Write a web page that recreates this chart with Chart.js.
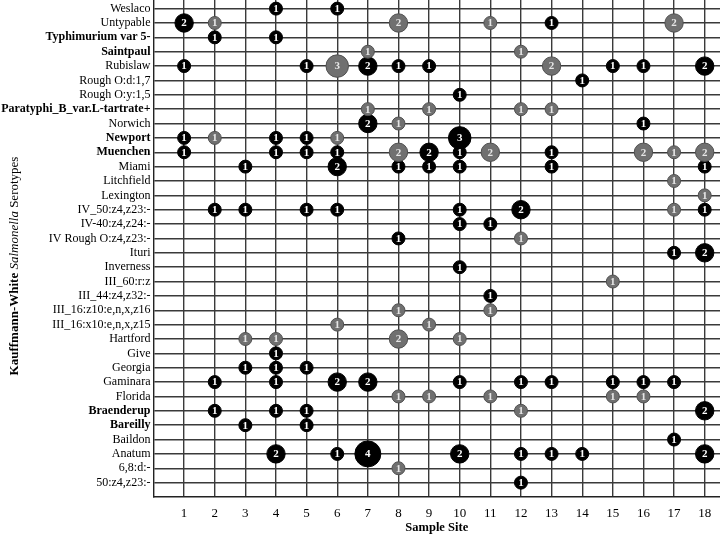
<!DOCTYPE html>
<html><head><meta charset="utf-8">
<script src="https://cdn.jsdelivr.net/npm/chart.js@4.4.1/dist/chart.umd.min.js"></script>
<style>html,body{margin:0;padding:0;background:#fff}canvas{display:block}</style>
</head><body>
<canvas id="c" width="720" height="537"></canvas>
<script>
const serotypes = [
  "Weslaco","Untypable","Typhimurium var 5-","Saintpaul","Rubislaw","Rough O:d:1,7","Rough O:y:1,5",
  "Paratyphi_B_var.L-tartrate+","Norwich","Newport","Muenchen","Miami","Litchfield","Lexington",
  "IV_50:z4,z23:-","IV-40:z4,z24:-","IV Rough O:z4,z23:-","Ituri","Inverness","III_60:r:z",
  "III_44:z4,z32:-","III_16:z10:e,n,x,z16","III_16:x10:e,n,x,z15","Hartford","Give","Georgia",
  "Gaminara","Florida","Braenderup","Bareilly","Baildon","Anatum","6,8:d:-","50:z4,z23:-"
];
const boldSerotypes = ["Typhimurium var 5-","Saintpaul","Paratyphi_B_var.L-tartrate+","Newport","Muenchen","Braenderup","Bareilly"];
const sites = [1,2,3,4,5,6,7,8,9,10,11,12,13,14,15,16,17,18];

// counts per serotype (rows, top to bottom) and sample site (columns 1..18)
const blackCounts = [
  [0,0,0,1,0,1,0,0,0,0,0,0,0,0,0,0,0,0], // Weslaco
  [2,0,0,0,0,0,0,0,0,0,0,0,1,0,0,0,0,0], // Untypable
  [0,1,0,1,0,0,0,0,0,0,0,0,0,0,0,0,0,0], // Typhimurium var 5-
  [0,0,0,0,0,0,0,0,0,0,0,0,0,0,0,0,0,0], // Saintpaul
  [1,0,0,0,1,0,2,1,1,0,0,0,0,0,1,1,0,2], // Rubislaw
  [0,0,0,0,0,0,0,0,0,0,0,0,0,1,0,0,0,0], // Rough O:d:1,7
  [0,0,0,0,0,0,0,0,0,1,0,0,0,0,0,0,0,0], // Rough O:y:1,5
  [0,0,0,0,0,0,0,0,0,0,0,0,0,0,0,0,0,0], // Paratyphi_B
  [0,0,0,0,0,0,2,0,0,0,0,0,0,0,0,1,0,0], // Norwich
  [1,0,0,1,1,0,0,0,0,3,0,0,0,0,0,0,0,0], // Newport
  [1,0,0,1,1,1,0,0,2,1,0,0,1,0,0,0,0,0], // Muenchen
  [0,0,1,0,0,2,0,1,1,1,0,0,1,0,0,0,0,1], // Miami
  [0,0,0,0,0,0,0,0,0,0,0,0,0,0,0,0,0,0], // Litchfield
  [0,0,0,0,0,0,0,0,0,0,0,0,0,0,0,0,0,0], // Lexington
  [0,1,1,0,1,1,0,0,0,1,0,2,0,0,0,0,0,1], // IV_50
  [0,0,0,0,0,0,0,0,0,1,1,0,0,0,0,0,0,0], // IV-40
  [0,0,0,0,0,0,0,1,0,0,0,0,0,0,0,0,0,0], // IV Rough
  [0,0,0,0,0,0,0,0,0,0,0,0,0,0,0,0,1,2], // Ituri
  [0,0,0,0,0,0,0,0,0,1,0,0,0,0,0,0,0,0], // Inverness
  [0,0,0,0,0,0,0,0,0,0,0,0,0,0,0,0,0,0], // III_60
  [0,0,0,0,0,0,0,0,0,0,1,0,0,0,0,0,0,0], // III_44
  [0,0,0,0,0,0,0,0,0,0,0,0,0,0,0,0,0,0], // III_16:z10
  [0,0,0,0,0,0,0,0,0,0,0,0,0,0,0,0,0,0], // III_16:x10
  [0,0,0,0,0,0,0,0,0,0,0,0,0,0,0,0,0,0], // Hartford
  [0,0,0,1,0,0,0,0,0,0,0,0,0,0,0,0,0,0], // Give
  [0,0,1,1,1,0,0,0,0,0,0,0,0,0,0,0,0,0], // Georgia
  [0,1,0,1,0,2,2,0,0,1,0,1,1,0,1,1,1,0], // Gaminara
  [0,0,0,0,0,0,0,0,0,0,0,0,0,0,0,0,0,0], // Florida
  [0,1,0,1,1,0,0,0,0,0,0,0,0,0,0,0,0,2], // Braenderup
  [0,0,1,0,1,0,0,0,0,0,0,0,0,0,0,0,0,0], // Bareilly
  [0,0,0,0,0,0,0,0,0,0,0,0,0,0,0,0,1,0], // Baildon
  [0,0,0,2,0,1,4,0,0,2,0,1,1,1,0,0,0,2], // Anatum
  [0,0,0,0,0,0,0,0,0,0,0,0,0,0,0,0,0,0], // 6,8:d:-
  [0,0,0,0,0,0,0,0,0,0,0,1,0,0,0,0,0,0]  // 50:z4,z23:-
];
const grayCounts = [
  [0,0,0,0,0,0,0,0,0,0,0,0,0,0,0,0,0,0], // Weslaco
  [0,1,0,0,0,0,0,2,0,0,1,0,0,0,0,0,2,0], // Untypable
  [0,0,0,0,0,0,0,0,0,0,0,0,0,0,0,0,0,0], // Typhimurium var 5-
  [0,0,0,0,0,0,1,0,0,0,0,1,0,0,0,0,0,0], // Saintpaul
  [0,0,0,0,0,3,0,0,0,0,0,0,2,0,0,0,0,0], // Rubislaw
  [0,0,0,0,0,0,0,0,0,0,0,0,0,0,0,0,0,0], // Rough O:d:1,7
  [0,0,0,0,0,0,0,0,0,0,0,0,0,0,0,0,0,0], // Rough O:y:1,5
  [0,0,0,0,0,0,1,0,1,0,0,1,1,0,0,0,0,0], // Paratyphi_B
  [0,0,0,0,0,0,0,1,0,0,0,0,0,0,0,0,0,0], // Norwich
  [0,1,0,0,0,1,0,0,0,0,0,0,0,0,0,0,0,0], // Newport
  [0,0,0,0,0,0,0,2,0,0,2,0,0,0,0,2,1,2], // Muenchen
  [0,0,0,0,0,0,0,0,0,0,0,0,0,0,0,0,0,0], // Miami
  [0,0,0,0,0,0,0,0,0,0,0,0,0,0,0,0,1,0], // Litchfield
  [0,0,0,0,0,0,0,0,0,0,0,0,0,0,0,0,0,1], // Lexington
  [0,0,0,0,0,0,0,0,0,0,0,0,0,0,0,0,1,0], // IV_50
  [0,0,0,0,0,0,0,0,0,0,0,0,0,0,0,0,0,0], // IV-40
  [0,0,0,0,0,0,0,0,0,0,0,1,0,0,0,0,0,0], // IV Rough
  [0,0,0,0,0,0,0,0,0,0,0,0,0,0,0,0,0,0], // Ituri
  [0,0,0,0,0,0,0,0,0,0,0,0,0,0,0,0,0,0], // Inverness
  [0,0,0,0,0,0,0,0,0,0,0,0,0,0,1,0,0,0], // III_60
  [0,0,0,0,0,0,0,0,0,0,0,0,0,0,0,0,0,0], // III_44
  [0,0,0,0,0,0,0,1,0,0,1,0,0,0,0,0,0,0], // III_16:z10
  [0,0,0,0,0,1,0,0,1,0,0,0,0,0,0,0,0,0], // III_16:x10
  [0,0,1,1,0,0,0,2,0,1,0,0,0,0,0,0,0,0], // Hartford
  [0,0,0,0,0,0,0,0,0,0,0,0,0,0,0,0,0,0], // Give
  [0,0,0,0,0,0,0,0,0,0,0,0,0,0,0,0,0,0], // Georgia
  [0,0,0,0,0,0,0,0,0,0,0,0,0,0,0,0,0,0], // Gaminara
  [0,0,0,0,0,0,0,1,1,0,1,0,0,0,1,1,0,0], // Florida
  [0,0,0,0,0,0,0,0,0,0,0,1,0,0,0,0,0,0], // Braenderup
  [0,0,0,0,0,0,0,0,0,0,0,0,0,0,0,0,0,0], // Bareilly
  [0,0,0,0,0,0,0,0,0,0,0,0,0,0,0,0,0,0], // Baildon
  [0,0,0,0,0,0,0,0,0,0,0,0,0,0,0,0,0,0], // Anatum
  [0,0,0,0,0,0,0,1,0,0,0,0,0,0,0,0,0,0], // 6,8:d:-
  [0,0,0,0,0,0,0,0,0,0,0,0,0,0,0,0,0,0]  // 50:z4,z23:-
];

const N = serotypes.length;
const SERIF = '"Liberation Serif", "Times New Roman", serif';

function toPoints(matrix) {
  const pts = [];
  matrix.forEach((row, i) => row.forEach((v, j) => {
    if (v > 0) pts.push({ x: sites[j], y: N - i, r: 6.5 * Math.sqrt(v), v: v });
  }));
  return pts;
}

const labelPlugin = {
  id: 'bubbleLabels',
  afterDatasetsDraw(chart) {
    const ctx = chart.ctx;
    ctx.save();
    ctx.font = 'bold 11px ' + SERIF;
    ctx.textAlign = 'center';
    ctx.textBaseline = 'middle';
    chart.data.datasets.forEach((ds, di) => {
      const meta = chart.getDatasetMeta(di);
      ctx.fillStyle = ds.labelColor;
      meta.data.forEach((el, k) => {
        ctx.fillText(String(ds.data[k].v), el.x, el.y + 0.5);
      });
    });
    ctx.restore();
  }
};

const yTitlePlugin = {
  id: 'yTitle',
  afterDraw(chart) {
    const ctx = chart.ctx;
    const parts = [
      { t: 'Kauffmann-White ', f: 'bold 13px ' + SERIF },
      { t: 'Salmonella', f: 'italic 13px ' + SERIF },
      { t: ' Serotypes', f: '13px ' + SERIF }
    ];
    let total = 0;
    parts.forEach(p => { ctx.font = p.f; p.w = ctx.measureText(p.t).width; total += p.w; });
    ctx.save();
    ctx.translate(15, 266);
    ctx.rotate(-Math.PI / 2);
    ctx.fillStyle = '#000';
    ctx.textBaseline = 'middle';
    ctx.textAlign = 'left';
    let x = -total / 2;
    parts.forEach(p => { ctx.font = p.f; ctx.fillText(p.t, x, 0); x += p.w; });
    ctx.restore();
  }
};

const gridColor = '#3a3a3a';
function zeroPad(s) { s.paddingTop = 0; s.paddingBottom = 0; s.paddingLeft = 0; s.paddingRight = 0; }

new Chart(document.getElementById('c'), {
  type: 'bubble',
  data: {
    datasets: [
      { label: 'gray', data: toPoints(grayCounts), backgroundColor: '#707070', borderColor: '#505050', borderWidth: 1, labelColor: '#e6e6e6' },
      { label: 'black', data: toPoints(blackCounts), backgroundColor: '#000000', borderColor: '#000000', borderWidth: 1, labelColor: '#ffffff' }
    ]
  },
  options: {
    responsive: false,
    animation: false,
    events: [],
    layout: { padding: 0, autoPadding: false },
    plugins: { legend: { display: false }, tooltip: { enabled: false } },
    scales: {
      x: {
        type: 'linear', min: 0, max: 18.5,
        afterBuildTicks(s) { s.ticks = sites.map(v => ({ value: v })); },
        afterFit(s) { s.height = 40; zeroPad(s); },
        grid: { color: gridColor, lineWidth: 1.4, drawTicks: false },
        border: { color: '#222', width: 1.4 },
        ticks: { color: '#000', font: { family: SERIF, size: 13 }, padding: 9, maxRotation: 0, autoSkip: false },
        title: { display: true, text: 'Sample Site', color: '#000', font: { family: SERIF, size: 12.5, weight: 'bold' }, padding: { top: 0, bottom: 2 } }
      },
      y: {
        type: 'linear', min: 0, max: 34.6,
        afterBuildTicks(s) { s.ticks = serotypes.map((n, i) => ({ value: N - i })); },
        afterFit(s) { s.width = 153.5; zeroPad(s); },
        grid: { color: gridColor, lineWidth: 1.4, drawTicks: false },
        border: { color: '#222', width: 1.4 },
        ticks: {
          color: '#000', padding: 3, autoSkip: false,
          callback: (v) => serotypes[N - v],
          font: (c) => {
            const name = c.tick ? serotypes[N - c.tick.value] : '';
            return { family: SERIF, size: 12, weight: boldSerotypes.includes(name) ? 'bold' : 'normal' };
          }
        }
      }
    }
  },
  plugins: [labelPlugin, yTitlePlugin]
});
</script>
</body></html>
